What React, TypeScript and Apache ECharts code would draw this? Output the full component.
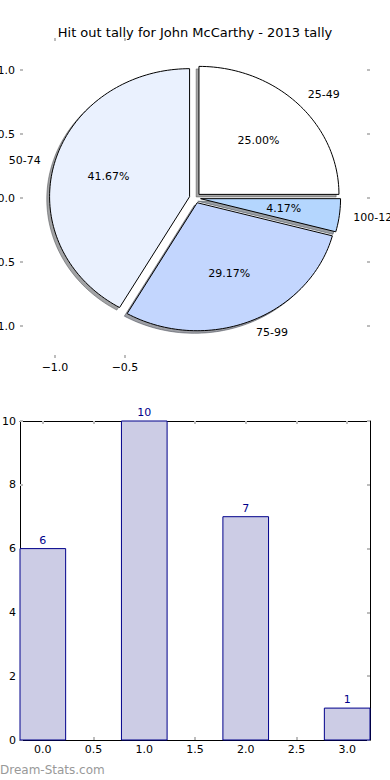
import React, { useEffect, useRef } from "react";
import * as echarts from "echarts";

// ---- data ----
const titleText = "Hit out tally for John McCarthy - 2013 tally";
const rangeLabels = ["25-49", "50-74", "75-99", "100-124"];
const tallyCounts = [6, 10, 7, 1];
const barPositions = [0, 1, 2, 3];
const sliceColors = ["#FFFFFF", "#EAF1FE", "#C3D6FE", "#B4D6FE"];
const explode = [0.04, 0.04, 0.04, 0.04];
const pieXTicks = [-1.0, -0.5];
const pieYTicks = [-1.0, -0.5, 0.0, 0.5, 1.0];
const barXTicks = [0, 0.5, 1, 1.5, 2, 2.5, 3];
const barYTicks = [0, 2, 4, 6, 8, 10];

const FONT = "DejaVu Sans";
const TICK_COLOR = "#bdbdbd";
const BAR_HALF = 0.225;

const total = tallyCounts.reduce((a, b) => a + b, 0);
const angleBounds = (() => {
  const out: [number, number][] = [];
  let acc = 0;
  for (const v of tallyCounts) {
    const s = (acc / total) * 360;
    acc += v;
    out.push([s, (acc / total) * 360]);
  }
  return out;
})();

const fmtNum = (v: number) => {
  const s = Number(v).toFixed(1);
  return s.startsWith("-") ? "\u2212" + s.slice(1) : s;
};

function slicePoints(api: any, i: number, ox: number, oy: number) {
  const [s, e] = angleBounds[i];
  const mid = ((s + e) / 2) * (Math.PI / 180);
  const cx = explode[i] * Math.cos(mid) + ox;
  const cy = explode[i] * Math.sin(mid) + oy;
  const pts: number[][] = [api.coord([cx, cy])];
  const n = Math.max(4, Math.ceil((e - s) / 1.5));
  for (let k = 0; k <= n; k++) {
    const t = (s + ((e - s) * k) / n) * (Math.PI / 180);
    pts.push(api.coord([cx + Math.cos(t), cy + Math.sin(t)]));
  }
  return pts;
}

function shade(hex: string) {
  const r = parseInt(hex.slice(1, 3), 16);
  const g = parseInt(hex.slice(3, 5), 16);
  const b = parseInt(hex.slice(5, 7), 16);
  return `rgba(${Math.round(r * 0.3)},${Math.round(g * 0.3)},${Math.round(b * 0.3)},0.5)`;
}

const tickStyle = (vals: number[]) => ({
  show: true,
  inside: true,
  length: 3,
  customValues: vals,
  lineStyle: { color: TICK_COLOR, width: 2 },
});

export default function App() {
  const ref = useRef<HTMLDivElement>(null);

  useEffect(() => {
    if (!ref.current) return;
    const chart = echarts.init(ref.current, undefined, { renderer: "svg" });

    const labelStyle = { color: "#000", fontFamily: FONT, fontSize: 11 };

    const option: any = {
      animation: false,
      backgroundColor: "#fff",
      title: {
        text: titleText,
        left: "center",
        top: 21,
        textStyle: { color: "#000", fontFamily: FONT, fontSize: 13, fontWeight: "normal" },
      },
      graphic: [
        {
          type: "text",
          left: 0,
          top: 764,
          style: { text: "Dream-Stats.com", fill: "#999", font: `12px "${FONT}"` },
        },
      ],
      grid: [
        { left: 20, top: 38, width: 350, height: 320, outerBoundsMode: "none", containLabel: false },
        { left: 20, top: 421, width: 350, height: 319, outerBoundsMode: "none", containLabel: false },
      ],
      xAxis: [
        {
          gridIndex: 0, type: "value", position: "bottom", min: -1.25, max: 1.25,
          axisLine: { show: false, onZero: false },
          axisTick: tickStyle(pieXTicks),
          axisLabel: { ...labelStyle, customValues: pieXTicks, margin: 4, formatter: fmtNum },
          splitLine: { show: false },
        },
        {
          gridIndex: 0, type: "value", position: "top", min: -1.25, max: 1.25,
          axisLine: { show: false, onZero: false },
          axisTick: tickStyle(pieXTicks),
          axisLabel: { show: false },
          splitLine: { show: false },
        },
        {
          gridIndex: 1, type: "value", position: "bottom", min: -BAR_HALF, max: 3 + BAR_HALF,
          axisLine: { show: true, onZero: false, lineStyle: { color: "#000", width: 1 } },
          axisTick: tickStyle(barXTicks),
          axisLabel: { ...labelStyle, customValues: barXTicks, margin: 4, formatter: fmtNum },
          splitLine: { show: false },
        },
        {
          gridIndex: 1, type: "value", position: "top", min: -BAR_HALF, max: 3 + BAR_HALF,
          axisLine: { show: true, onZero: false, lineStyle: { color: "#000", width: 1 } },
          axisTick: tickStyle(barXTicks),
          axisLabel: { show: false },
          splitLine: { show: false },
        },
      ],
      yAxis: [
        {
          gridIndex: 0, type: "value", position: "left", min: -1.25, max: 1.25,
          axisLine: { show: false, onZero: false },
          axisTick: tickStyle(pieYTicks),
          axisLabel: { ...labelStyle, customValues: pieYTicks, margin: 5, formatter: fmtNum },
          splitLine: { show: false },
        },
        {
          gridIndex: 0, type: "value", position: "right", min: -1.25, max: 1.25,
          axisLine: { show: false, onZero: false },
          axisTick: tickStyle(pieYTicks),
          axisLabel: { show: false },
          splitLine: { show: false },
        },
        {
          gridIndex: 1, type: "value", position: "left", min: 0, max: 10, interval: 2,
          axisLine: { show: true, onZero: false, lineStyle: { color: "#000", width: 1 } },
          axisTick: tickStyle(barYTicks),
          axisLabel: { ...labelStyle, customValues: barYTicks, margin: 4 },
          splitLine: { show: false },
        },
        {
          gridIndex: 1, type: "value", position: "right", min: 0, max: 10, interval: 2,
          axisLine: { show: true, onZero: false, lineStyle: { color: "#000", width: 1 } },
          axisTick: tickStyle(barYTicks),
          axisLabel: { show: false },
          splitLine: { show: false },
        },
      ],
      series: [
        {
          name: "shadow",
          type: "custom",
          xAxisIndex: 0,
          yAxisIndex: 0,
          silent: true,
          data: tallyCounts.map((v) => [0, 0, v]),
          renderItem: (params: any, api: any) => {
            const i = params.dataIndex;
            return {
              type: "polygon",
              shape: { points: slicePoints(api, i, -0.02, -0.02) },
              style: { fill: shade(sliceColors[i]), stroke: shade(sliceColors[i]), lineWidth: 1 },
            };
          },
        },
        {
          name: "slices",
          type: "custom",
          xAxisIndex: 0,
          yAxisIndex: 0,
          silent: true,
          data: tallyCounts.map((v) => [0, 0, v]),
          renderItem: (params: any, api: any) => {
            const i = params.dataIndex;
            return {
              type: "polygon",
              shape: { points: slicePoints(api, i, 0, 0) },
              style: { fill: sliceColors[i], stroke: "#000", lineWidth: 1, lineJoin: "miter" },
            };
          },
        },
        {
          name: "pieLabels",
          type: "custom",
          xAxisIndex: 0,
          yAxisIndex: 0,
          silent: true,
          data: tallyCounts.map((v) => [0, 0, v]),
          renderItem: (params: any, api: any) => {
            const i = params.dataIndex;
            const [s, e] = angleBounds[i];
            const mid = ((s + e) / 2) * (Math.PI / 180);
            const ex = explode[i];
            const c = Math.cos(mid);
            const sn = Math.sin(mid);
            const lp = api.coord([(ex + 1.1) * c, (ex + 1.1) * sn]);
            const pp = api.coord([(ex + 0.6) * c, (ex + 0.6) * sn]);
            const pct = ((api.value(2) / total) * 100).toFixed(2) + "%";
            return {
              type: "group",
              children: [
                {
                  type: "text",
                  x: lp[0],
                  y: lp[1],
                  style: {
                    text: rangeLabels[i],
                    fill: "#000",
                    font: `11px "${FONT}"`,
                    textAlign: c >= 0 ? "left" : "right",
                    textVerticalAlign: "middle",
                  },
                },
                {
                  type: "text",
                  x: pp[0],
                  y: pp[1],
                  style: {
                    text: pct,
                    fill: "#000",
                    font: `11px "${FONT}"`,
                    textAlign: "center",
                    textVerticalAlign: "middle",
                  },
                },
              ],
            };
          },
        },
        {
          name: "bars",
          type: "custom",
          xAxisIndex: 2,
          yAxisIndex: 2,
          silent: true,
          data: barPositions.map((x, i) => [x, tallyCounts[i]]),
          renderItem: (params: any, api: any) => {
            const x = api.value(0);
            const v = api.value(1);
            const p0 = api.coord([x - BAR_HALF, v]);
            const p1 = api.coord([x + BAR_HALF, 0]);
            return {
              type: "group",
              children: [
                {
                  type: "rect",
                  shape: { x: p0[0], y: p0[1], width: p1[0] - p0[0], height: p1[1] - p0[1] },
                  style: { fill: "#CCCCE5", stroke: "#00008B", lineWidth: 1 },
                },
                {
                  type: "text",
                  x: (p0[0] + p1[0]) / 2,
                  y: p0[1] - 3,
                  style: {
                    text: String(v),
                    fill: "#00008B",
                    font: `11px "${FONT}"`,
                    textAlign: "center",
                    textVerticalAlign: "bottom",
                  },
                },
              ],
            };
          },
        },
      ],
    };

    chart.setOption(option);
    return () => chart.dispose();
  }, []);

  return (
    <div
      ref={ref}
      style={{ position: "absolute", left: 0, top: 0, width: 390, height: 780 }}
    />
  );
}
